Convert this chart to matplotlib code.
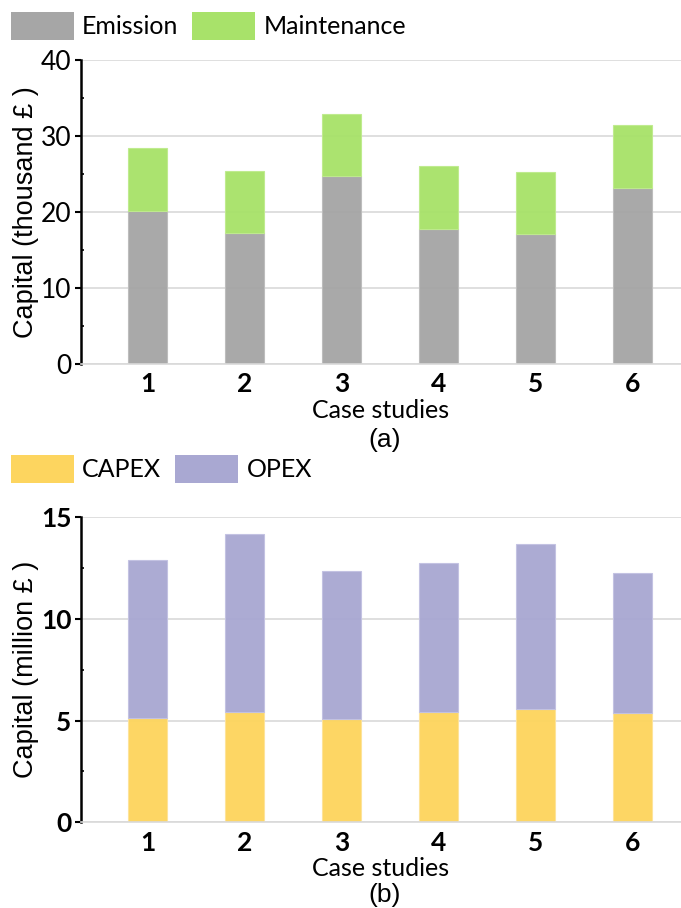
import matplotlib
matplotlib.use("Agg")
import matplotlib.pyplot as plt
from matplotlib.patches import Patch
from matplotlib.ticker import MultipleLocator

cases = ["1", "2", "3", "4", "5", "6"]
emission = [20.1, 17.2, 24.7, 17.8, 17.1, 23.2]
maintenance = [8.3, 8.2, 8.2, 8.2, 8.2, 8.3]
capex = [5.12, 5.41, 5.08, 5.41, 5.56, 5.39]
opex = [7.80, 8.76, 7.27, 7.33, 8.14, 6.87]

C_GREY = "#a6a6a6"
C_GREEN = "#a8e26a"
C_YELLOW = "#fdd55f"
C_PURPLE = "#a9a8d2"

FONT = "Lato"
ARIAL = "Liberation Sans"
FS = 18

fig = plt.figure(figsize=(6.81, 9.08), dpi=100)
W, H = 681, 908

def ax_rect(left, top, bottom, right=681):
    return [left / W, 1 - bottom / H, (right - left) / W, (bottom - top) / H]

x = list(range(1, len(cases) + 1))

def style(ax, ylim, major, minor, ytick_bold, ylabel):
    ax.set_xlim(0.31, 6.5)
    ax.set_ylim(*ylim)
    ax.yaxis.set_major_locator(MultipleLocator(major))
    ax.yaxis.set_minor_locator(MultipleLocator(minor))
    ax.grid(axis="y", color="#d9d9d9", linewidth=1.2, zorder=0)
    ax.set_axisbelow(True)
    for s in ["top", "right"]:
        ax.spines[s].set_visible(False)
    ax.spines["bottom"].set_color("#d9d9d9")
    ax.spines["bottom"].set_linewidth(1.2)
    ax.spines["left"].set_color("black")
    ax.spines["left"].set_linewidth(1.8)
    ax.tick_params(axis="y", which="major", direction="out", length=4, width=1.5, pad=3)
    ax.tick_params(axis="y", which="minor", direction="in", length=2, width=1.2)
    ax.tick_params(axis="x", length=0, pad=6)
    ax.set_xticks(x)
    ax.set_xticklabels(cases, fontfamily=FONT, fontsize=FS + 1, fontweight="bold")
    for lab in ax.get_yticklabels():
        lab.set_fontfamily(FONT)
        lab.set_fontsize(FS + 1)
        lab.set_fontweight("bold" if ytick_bold else "normal")
    ax.set_xlabel("Case studies", fontfamily=FONT, fontsize=FS, labelpad=2)
    ax.set_ylabel(ylabel, family=[ARIAL, "DejaVu Sans"], fontsize=19.5)
    ax.yaxis.set_label_coords(-0.07, 0.5)

# top chart
ax1 = fig.add_axes(ax_rect(81, 60, 364))
ax1.bar(x, emission, width=0.4, color=C_GREY, edgecolor="#bdbdbd", linewidth=0.8, alpha=0.97, zorder=2)
ax1.bar(x, maintenance, width=0.4, bottom=emission, color=C_GREEN, edgecolor="#bfeb8e", linewidth=0.8, alpha=0.97, zorder=2)
style(ax1, (0, 40), 10, 5, False, "Capital (thousand £ )")

# bottom chart
ax2 = fig.add_axes(ax_rect(81, 517.3, 822.3))
ax2.bar(x, capex, width=0.4, color=C_YELLOW, edgecolor="#fde39a", linewidth=0.8, alpha=0.97, zorder=2)
ax2.bar(x, opex, width=0.4, bottom=capex, color=C_PURPLE, edgecolor="#c3c2e2", linewidth=0.8, alpha=0.97, zorder=2)
style(ax2, (0, 15), 5, 2.5, True, "Capital (million £ )")

fig.text(385 / W, 1 - 440 / H, "(a)", ha="center", va="center", family=ARIAL, fontsize=19)
fig.text(385 / W, 1 - 895 / H, "(b)", ha="center", va="center", family=ARIAL, fontsize=19)

def legend(labels, colors, ycenter):
    handles = [Patch(facecolor=c, edgecolor="none") for c in colors]
    fig.legend(handles, labels, loc="center left",
               bbox_to_anchor=(11 / W, 1 - ycenter / H),
               ncol=len(labels), frameon=False, borderpad=0, borderaxespad=0,
               handlelength=2.5, handleheight=1.3, handletextpad=0.35,
               columnspacing=0.55, prop={"family": FONT, "size": FS})

legend(["Emission", "Maintenance"], [C_GREY, C_GREEN], 26)
legend(["CAPEX", "OPEX"], [C_YELLOW, C_PURPLE], 469)

fig.savefig("out.png", dpi=100)
